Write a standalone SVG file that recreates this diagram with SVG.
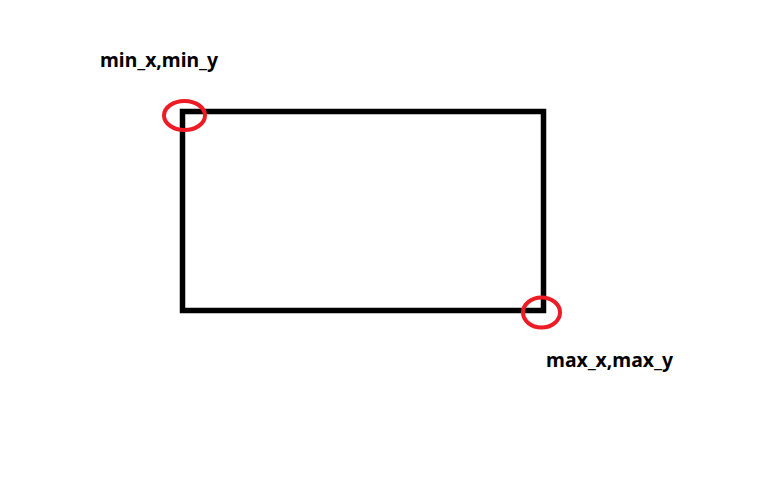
<svg xmlns="http://www.w3.org/2000/svg" width="783" height="480" viewBox="0 0 783 480">
<style>
.lbl{font-family:"Noto Sans","Liberation Sans",sans-serif;font-weight:bold;font-size:19px;fill:#000}
.mark{fill:none;stroke:#ed1c24;stroke-width:4}
</style>
<rect width="783" height="480" fill="#fff"/>
<g id="box"><rect x="182.5" y="111.5" width="361" height="199" fill="none" stroke="#000" stroke-width="5.5"/></g>
<g id="min-corner"><ellipse class="mark" cx="184.5" cy="115.5" rx="20.5" ry="14.5"/></g>
<g id="max-corner"><ellipse class="mark" cx="541.5" cy="312.5" rx="18.5" ry="15"/></g>
<g id="labels">
<text class="lbl" x="100" y="67" textLength="118" lengthAdjust="spacingAndGlyphs">min_x,min_y</text>
<text class="lbl" x="546" y="367" textLength="127" lengthAdjust="spacingAndGlyphs">max_x,max_y</text>
</g>
</svg>
